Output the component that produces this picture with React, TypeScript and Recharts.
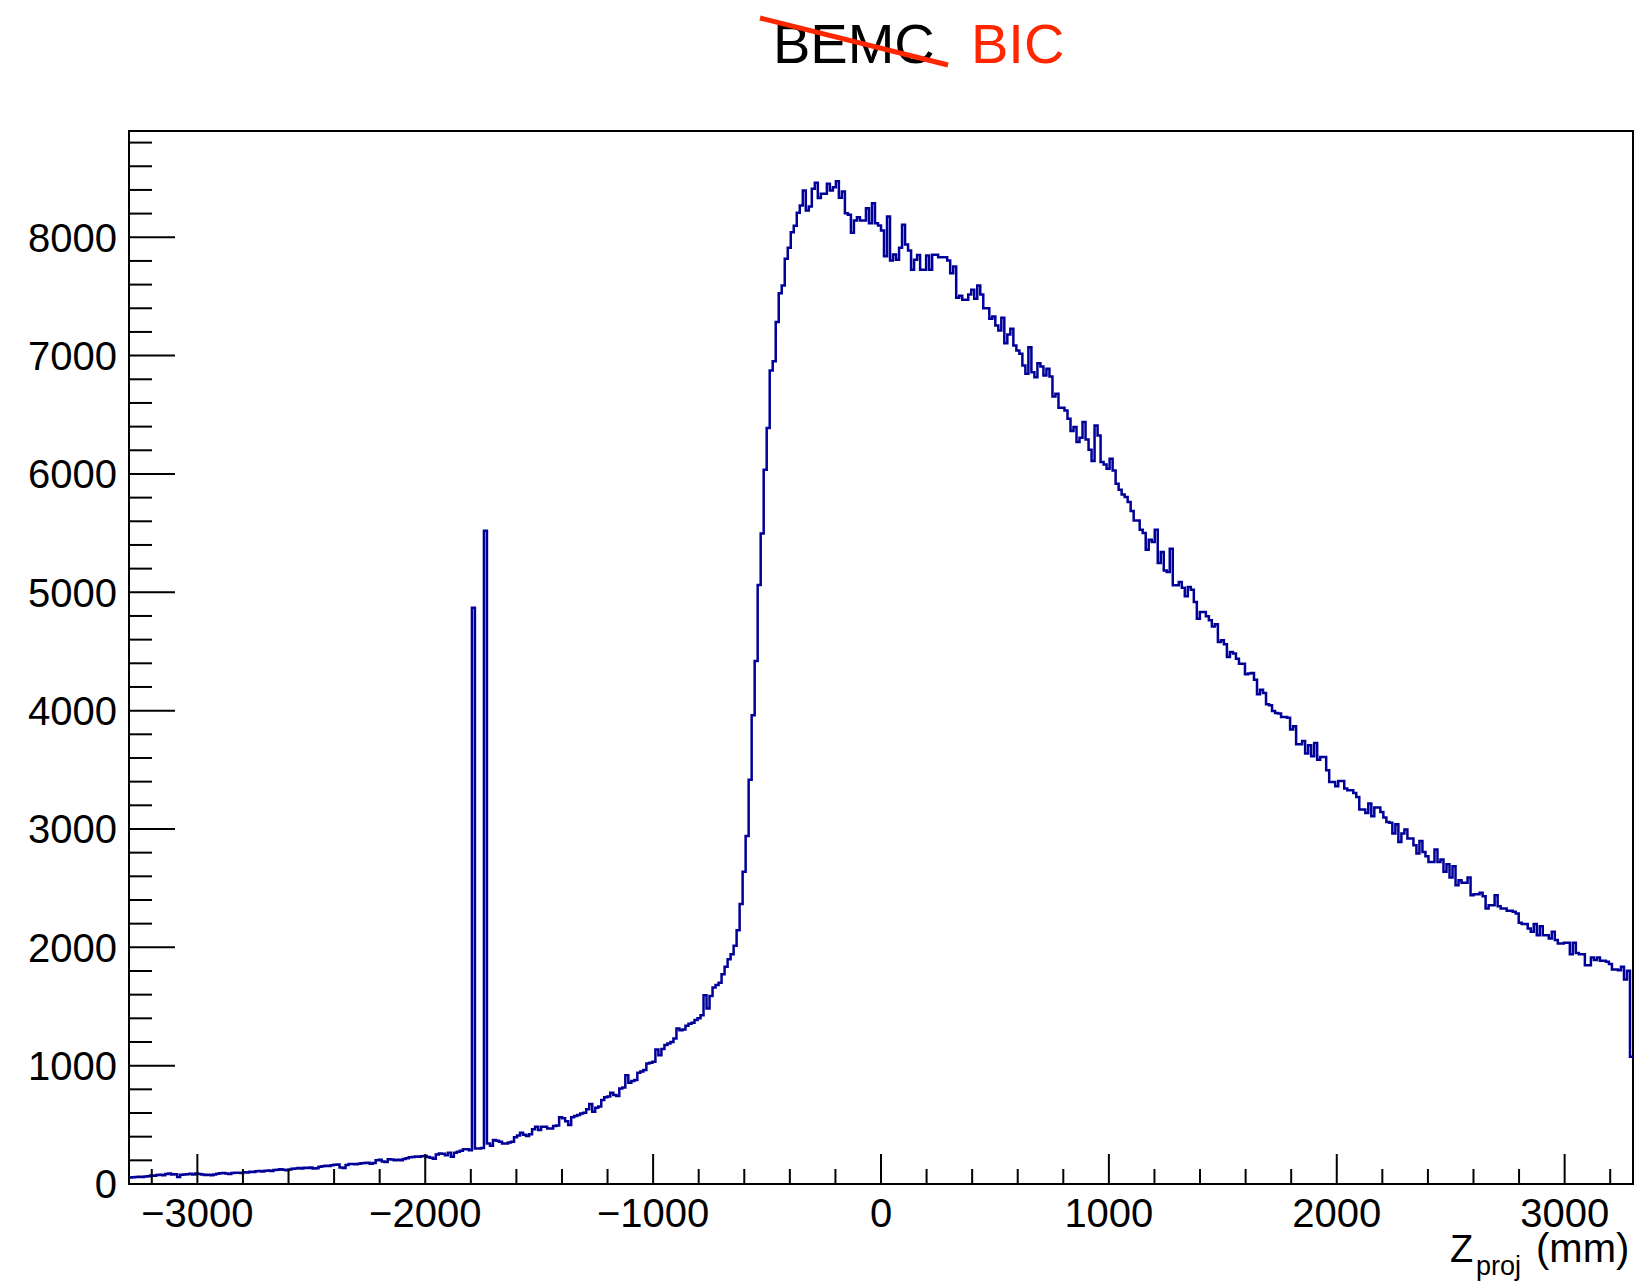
import React from 'react';
import { LineChart, Line, XAxis, YAxis, ReferenceArea } from 'recharts';

// histogram binning: 500 bins over [-3300, 3300] mm
const zMin = -3300;
const zMax = 3300;
const binWidth = 13.2;
const yMax = 8898;

// bin contents left to right
const lowTail = [
  55, 58, 60, 62, 60, 63, 66, 72, 70, 75, 78, 74, 85, 88, 80, 82, 60, 78, 80, 83,
  86, 80, 88, 85, 80, 75, 78, 74, 80, 86, 90, 92, 88, 85, 92, 95, 96, 92, 100, 98,
  104, 102, 108, 110, 106, 112, 114, 110, 118, 120, 124, 120, 116, 122, 128, 130, 135, 132, 138, 136,
  140, 130, 134, 145, 150, 155, 152, 158, 162, 165, 140, 135, 160, 168, 170, 166, 172, 175, 178, 180,
  172, 178, 200, 205, 190, 186, 210, 206, 200, 205, 200, 212, 218, 225, 228, 232, 230, 234, 236, 228,
  222, 214, 250, 258,
];

const spikeZone = [255, 242, 265, 231, 265, 273, 281, 293, 293, 285, 4870, 301, 301, 305, 5520];

const rise = [
  343, 324, 372, 365, 358, 343, 343, 350, 358, 394,
  410, 433, 417, 405, 420, 462, 484, 456, 484, 484,
  470, 470, 490, 495, 563, 555, 530, 498, 563, 575,
  583, 595, 602, 631, 676, 611, 645, 655, 709, 732,
  740, 771, 752, 743, 808, 815, 920, 856, 870, 878,
  940, 950, 963, 1019, 1025, 1033, 1137, 1089, 1140, 1174,
  1188, 1200, 1230, 1315, 1300, 1306, 1337, 1355, 1362, 1385,
  1400, 1427, 1596, 1484, 1588, 1660, 1681, 1700, 1773, 1835,
  1900, 1942, 2014, 2145, 2367, 2639, 2941, 3415, 3962, 4419,
  5061, 5496, 6035, 6388, 6875, 6953, 7285,
];

const peak = [
  7528, 7593, 7818, 7911, 8043, 8097, 8207, 8269, 8395, 8226,
  8260, 8410, 8460, 8332, 8367, 8367, 8452, 8395, 8423, 8474,
  8333, 8387, 8204, 8190, 8038, 8142, 8170, 8142, 8142, 8246,
  8119, 8288, 8119, 8100, 8057, 7840, 8175, 7804, 7855, 7810,
  7911, 8105, 7939, 7888, 7725, 7810, 7850, 7725, 7725, 7846,
  7725, 7852, 7852, 7832,
];

const fall = [
  7831, 7831, 7803, 7696, 7752, 7488, 7505, 7471, 7471, 7516,
  7556, 7480, 7592, 7516, 7401, 7401, 7311, 7330, 7254, 7212,
  7319, 7105, 7178, 7226, 7085, 7043, 7015, 6916, 6846, 7071,
  6860, 6818, 6936, 6908, 6832, 6888, 6824, 6655, 6677, 6559,
  6559, 6536, 6466, 6362, 6396, 6269, 6306, 6438, 6292, 6204,
  6109, 6410, 6325, 6100, 6080, 6044, 6128, 6030, 5917, 5866,
  5827, 5805, 5762, 5686, 5607, 5607, 5529, 5500, 5360, 5444,
  5424, 5529, 5247, 5340, 5185, 5171, 5368, 5059, 5059, 5087,
  5039, 4966, 5045, 5022, 4918, 4777, 4833, 4833, 4797, 4763,
  4712, 4729, 4580, 4594, 4560, 4453, 4496, 4482, 4439, 4397,
  4397, 4307, 4313, 4318, 4262, 4138, 4177, 4149, 4054, 4045,
  3997, 3981, 3975, 3947, 3947, 3940,
];

const tail = [
  3840, 3868, 3716, 3716, 3744, 3637, 3707, 3615, 3727, 3586,
  3609, 3609, 3496, 3398, 3398, 3361, 3406, 3406, 3341, 3327,
  3327, 3305, 3271, 3164, 3164, 3136, 3215, 3108, 3181, 3181,
  3144, 3097, 3060, 3052, 2961, 3040, 2891, 2961, 2995, 2919,
  2919, 2863, 2792, 2899, 2806, 2770, 2722, 2722, 2826, 2722,
  2742, 2638, 2702, 2590, 2686, 2525, 2567, 2545, 2545, 2590,
  2441, 2449, 2449, 2461, 2432, 2328, 2356, 2356, 2441, 2348,
  2328, 2328, 2308, 2308, 2300, 2286, 2207, 2196, 2196, 2159,
  2131, 2196, 2103, 2179, 2103, 2103, 2075, 2131, 2061, 2032,
  2032, 2038, 2038, 1942, 2038, 1953, 1942, 1942, 1849, 1849,
  1914, 1892, 1914, 1886, 1886, 1878, 1858, 1813, 1813, 1807,
  1835, 1728, 1801, 1075,
];

const yMajorTicks = [0, 1000, 2000, 3000, 4000, 5000, 6000, 7000, 8000];
const xMajorTicks = [-3000, -2000, -1000, 0, 1000, 2000, 3000];
const minorStep = 200;

const counts = [...lowTail, ...spikeZone, ...rise, ...peak, ...fall, ...tail];
const data = counts.map((c, i) => ({ z: zMin + i * binWidth, count: c }));
data.push({ z: zMax, count: counts[counts.length - 1] });

const yTicks: number[] = [];
for (let v = 0; v <= yMax; v += minorStep) yTicks.push(v);
const xTicks: number[] = [];
for (let v = xMajorTicks[0] - minorStep; v < zMax; v += minorStep) if (v > zMin) xTicks.push(v);

const FONT = '"Liberation Sans", Arial, Helvetica, sans-serif';

const fmt = (v: number) => (v < 0 ? '\u2212' + Math.abs(v) : String(v));

const YTick = ({ x, y, payload }: any) => {
  const v = payload.value;
  const major = yMajorTicks.includes(v);
  return (
    <g>
      <line x1={x} y1={y} x2={x + (major ? 46 : 23)} y2={y} stroke="#000" strokeWidth={2} />
      {major && (
        <text x={x - 12} y={y} dy="0.36em" textAnchor="end" fontSize={40} fill="#000" fontFamily={FONT}>
          {fmt(v)}
        </text>
      )}
    </g>
  );
};

const XTick = ({ x, y, payload }: any) => {
  const v = payload.value;
  const major = xMajorTicks.includes(v);
  return (
    <g>
      <line x1={x} y1={y} x2={x} y2={y - (major ? 30 : 15)} stroke="#000" strokeWidth={2} />
      {major && (
        <text x={x} y={y + 43} textAnchor="middle" fontSize={40} fill="#000" fontFamily={FONT}>
          {fmt(v)}
        </text>
      )}
    </g>
  );
};

const App: React.FC = () => {
  return (
    <div style={{ position: 'absolute', left: 0, top: 0, width: 1640, height: 1282, background: '#fff' }}>
      <LineChart width={1640} height={1282} data={data} margin={{ top: 131, right: 7, bottom: 38, left: 69 }}>
        <XAxis
          dataKey="z"
          type="number"
          domain={[zMin, zMax]}
          allowDataOverflow
          ticks={xTicks}
          interval={0}
          tickSize={0}
          tickMargin={0}
          axisLine={false}
          tickLine={false}
          height={60}
          tick={(p: any) => <XTick {...p} />}
        />
        <YAxis
          type="number"
          domain={[0, yMax]}
          allowDataOverflow
          ticks={yTicks}
          interval={0}
          tickSize={0}
          tickMargin={0}
          axisLine={false}
          tickLine={false}
          width={60}
          tick={(p: any) => <YTick {...p} />}
        />
        <Line
          type="stepAfter"
          dataKey="count"
          stroke="#000099"
          strokeWidth={2.5}
          dot={false}
          activeDot={false}
          isAnimationActive={false}
        />
        <ReferenceArea x1={zMin} x2={zMax} y1={0} y2={yMax} fill="none" fillOpacity={0} stroke="#000" strokeWidth={2} />
      </LineChart>
      <svg
        width={1640}
        height={1282}
        style={{ position: 'absolute', left: 0, top: 0, pointerEvents: 'none' }}
      >
        <text x={773} y={63} fontSize={56} fill="#000" fontFamily={FONT}>BEMC</text>
        <text x={971} y={63} fontSize={56} fill="#ff2600" fontFamily={FONT}>BIC</text>
        <line x1={760} y1={18} x2={948} y2={65} stroke="#ff2600" strokeWidth={5} />
        <text x={1450} y={1262} fontSize={38} fill="#000" fontFamily={FONT}>Z</text>
        <text x={1476} y={1275} fontSize={27} fill="#000" fontFamily={FONT}>proj</text>
        <text x={1536} y={1262} fontSize={40} fill="#000" fontFamily={FONT}>(mm)</text>
      </svg>
    </div>
  );
};

export default App;
